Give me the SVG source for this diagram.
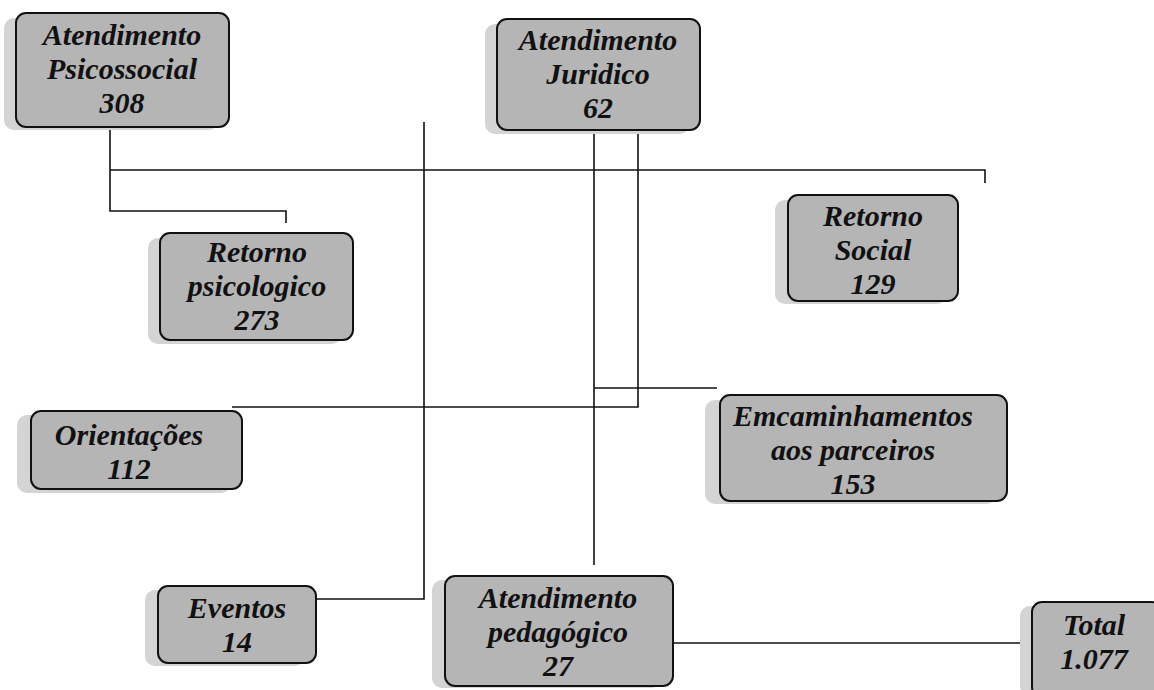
<svg xmlns="http://www.w3.org/2000/svg" width="1154" height="690" viewBox="0 0 1154 690">
<style>
.sh{fill:#d4d4d4}
.bx{fill:#b5b5b5;stroke:#111;stroke-width:2}
.t{font-family:"Liberation Serif","Times New Roman",serif;font-weight:bold;font-style:italic;font-size:30px;fill:#111;text-anchor:middle}
.c{fill:none;stroke:#111;stroke-width:1.6}
</style>
<rect width="1154" height="690" fill="#fff"/>
<g id="connectors">
<polyline class="c" points="110,127 110,211 286,211 286,223"/>
<polyline class="c" points="110,170 985,170 985,183"/>
<polyline class="c" points="424,122 424,599 316,599"/>
<line class="c" x1="594" y1="130" x2="594" y2="565"/>
<polyline class="c" points="638,130 638,407 232,407"/>
<line class="c" x1="594" y1="388" x2="717" y2="388"/>
<line class="c" x1="673" y1="643" x2="1032" y2="643"/>
</g>
<g id="n1">
<rect class="sh" x="4" y="18" width="215" height="112" rx="10"/>
<rect class="bx" x="16" y="13" width="213" height="114" rx="10"/>
<text class="t" x="122" y="45">Atendimento</text>
<text class="t" x="122" y="79">Psicossocial</text>
<text class="t" x="122" y="113">308</text>
</g>
<g id="n2">
<rect class="sh" x="485" y="24" width="205" height="110" rx="10"/>
<rect class="bx" x="497" y="19" width="203" height="111" rx="10"/>
<text class="t" x="598" y="50">Atendimento</text>
<text class="t" x="598" y="84">Juridico</text>
<text class="t" x="598" y="118">62</text>
</g>
<g id="n3">
<rect class="sh" x="148" y="238" width="194" height="106" rx="10"/>
<rect class="bx" x="160" y="233" width="193" height="107" rx="10"/>
<text class="t" x="257" y="262">Retorno</text>
<text class="t" x="257" y="296">psicologico</text>
<text class="t" x="257" y="330">273</text>
</g>
<g id="n4">
<rect class="sh" x="775" y="200" width="172" height="104" rx="10"/>
<rect class="bx" x="788" y="195" width="170" height="106" rx="10"/>
<text class="t" x="873" y="226">Retorno</text>
<text class="t" x="873" y="260">Social</text>
<text class="t" x="873" y="294">129</text>
</g>
<g id="n5">
<rect class="sh" x="17" y="415" width="214" height="78" rx="10"/>
<rect class="bx" x="31" y="411" width="211" height="78" rx="10"/>
<text class="t" x="129" y="445">Orientações</text>
<text class="t" x="129" y="479">112</text>
</g>
<g id="n6">
<rect class="sh" x="705" y="400" width="292" height="104" rx="10"/>
<rect class="bx" x="720" y="395" width="287" height="106" rx="10"/>
<text class="t" x="853" y="426">Emcaminhamentos</text>
<text class="t" x="853" y="460">aos parceiros</text>
<text class="t" x="853" y="494">153</text>
</g>
<g id="n7">
<rect class="sh" x="145" y="590" width="160" height="76" rx="10"/>
<rect class="bx" x="158" y="586" width="158" height="77" rx="10"/>
<text class="t" x="237" y="618">Eventos</text>
<text class="t" x="237" y="652">14</text>
</g>
<g id="n8">
<rect class="sh" x="432" y="580" width="230" height="108" rx="10"/>
<rect class="bx" x="445" y="576" width="228" height="110" rx="10"/>
<text class="t" x="558" y="608">Atendimento</text>
<text class="t" x="558" y="642">pedagógico</text>
<text class="t" x="558" y="676">27</text>
</g>
<g id="n9">
<rect class="sh" x="1020" y="606" width="140" height="90" rx="10"/>
<rect class="bx" x="1032" y="602" width="130" height="95" rx="10"/>
<text class="t" x="1094" y="635">Total</text>
<text class="t" x="1094" y="669">1.077</text>
</g>
</svg>
